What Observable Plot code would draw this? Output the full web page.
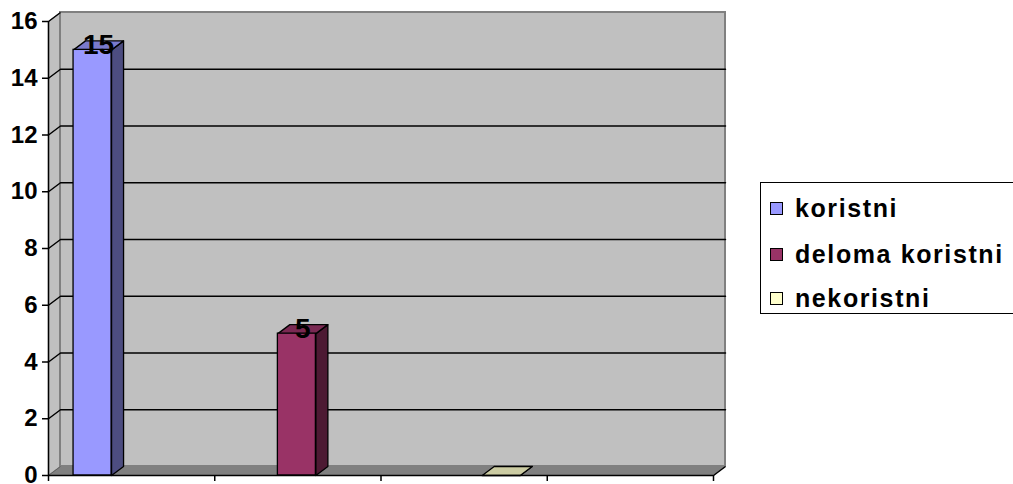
<!DOCTYPE html>
<html>
<head>
<meta charset="utf-8">
<script src="https://cdn.jsdelivr.net/npm/d3@7"></script>
<script src="https://cdn.jsdelivr.net/npm/@observablehq/plot@0.6"></script>
<style>
  html, body { margin: 0; padding: 0; background: #fff; }
  #wrap { position: relative; width: 1013px; height: 484px; overflow: hidden; font-family: "Liberation Sans", Arial, sans-serif; }
  #legend { position: absolute; left: 760px; top: 182px; width: 270px; height: 132px; border: 1px solid #000; background: #fff; box-sizing: border-box; }
  .item { position: absolute; left: 9px; height: 30px; display: flex; align-items: center; font-weight: 700; font-size: 25px; letter-spacing: 1.6px; color: #000; white-space: nowrap; }
  .sw { width: 11px; height: 11px; border: 1px solid #000; margin-right: 12px; flex: none; }
  #chart svg text { font-weight: 700; }
  #chart g[aria-label="y-axis tick label"] text { font-size: 24px; }
</style>
</head>
<body>
<div id="wrap"><div id="chart"></div><div id="legend"></div></div>
<script>
// ---- data ----
const categories = ["koristni", "deloma koristni", "nekoristni"];
const values = [15, 5, 0];
const frontColors = ["#9999FF", "#993366", "#FFFFCC"];
const sideColors = ["#4D4D80", "#4D1A33", "#808066"];
const topColors = ["#7A7ACC", "#7A2952", "#CCCCA3"];
const yTicks = [0, 2, 4, 6, 8, 10, 12, 14, 16];
const xTicks = [0, 1, 2, 3, 4];

// ---- layout ----
const W = 1013, H = 484;
const mL = 48, mR = 300, mT = 21, mB = 9;
const xDom = [0, 4], yDom = [0, 16];
const kx = (xDom[1] - xDom[0]) / (W - mL - mR);   // data units per px
const ky = (yDom[1] - yDom[0]) / (H - mT - mB);
const DX = 12 * kx, DY = 9 * ky;                // 3D depth offset
const barW = 38 * kx;
const firstCenter = 0.265, step = 1.229;

const bars = categories.map((c, i) => {
  const cx = firstCenter + i * step;
  return { c, v: values[i], x1: cx - barW / 2, x2: cx + barW / 2, cx,
    front: frontColors[i], side: sideColors[i], top: topColors[i] };
});

const poly = (pts) => pts.map(([x, y]) => ({ x, y }));
const polyMark = (pts, opts) => Plot.line(poly(pts), { x: "x", y: "y", curve: "linear-closed", ...opts });

const marks = [];
// left side wall
marks.push(polyMark([[0, 0], [0, 16], [DX, 16 + DY], [DX, DY]], { fill: "#C0C0C0", stroke: "#808080", strokeWidth: 1.2 }));
// back wall
marks.push(Plot.rect([0], { x1: DX, x2: 4 + DX, y1: DY, y2: 16 + DY, fill: "#C0C0C0", stroke: "#808080", strokeWidth: 2 }));
// gridlines (back wall horizontal + left wall diagonal)
const grid = [];
yTicks.filter(t => t > 0 && t < 16).forEach(t => {
  grid.push({ t, x: 0, y: t }, { t, x: DX, y: t + DY }, { t, x: 4 + DX, y: t + DY });
});
marks.push(Plot.line(grid, { x: "x", y: "y", z: "t", stroke: "#000", strokeWidth: 1.5 }));
marks.push(Plot.link([16], { x1: 0, y1: d => d, x2: DX, y2: d => d + DY, stroke: "#000", strokeWidth: 1.2 }));
// floor
marks.push(polyMark([[0, 0], [4, 0], [4 + DX, DY], [DX, DY]], { fill: "#808080", stroke: "none" }));
marks.push(Plot.link([0], { x1: 0, y1: 0, x2: DX, y2: DY, stroke: "#606060", strokeWidth: 1 }));
marks.push(Plot.link([0], { x1: 4, y1: 0, x2: 4 + DX, y2: DY, stroke: "#000", strokeWidth: 1.5 }));

// bars
bars.forEach(b => {
  marks.push(polyMark([[b.x2, 0], [b.x2 + DX, DY], [b.x2 + DX, b.v + DY], [b.x2, b.v]], { fill: b.side, stroke: "#000", strokeWidth: 1.3 }));
  marks.push(polyMark([[b.x1, b.v], [b.x2, b.v], [b.x2 + DX, b.v + DY], [b.x1 + DX, b.v + DY]], { fill: b.top, stroke: "#000", strokeWidth: 1.3 }));
  if (b.v > 0) marks.push(Plot.rect([b], { x1: "x1", x2: "x2", y1: 0, y2: "v", fill: b.front, stroke: "#000", strokeWidth: 1.3 }));
});

// axes
marks.push(Plot.ruleY([0], { stroke: "#000", strokeWidth: 1.5 }));
marks.push(Plot.ruleX([0], { stroke: "#000", strokeWidth: 1.5 }));
marks.push(Plot.axisY({ ticks: yTicks, tickSize: 6, tickPadding: 5, label: null, fontSize: 24, fontWeight: "bold", stroke: "#000", strokeWidth: 1.5 }));
marks.push(Plot.axisX({ ticks: xTicks, tickSize: 6, tickFormat: () => "", label: null, stroke: "#000", strokeWidth: 1.5 }));

// value labels
marks.push(Plot.text(bars.filter(b => b.v > 0), {
  x: b => b.cx + DX / 2, y: b => b.v + DY / 2, text: b => String(b.v),
  fontSize: 28, fontWeight: "bold", fill: "#000"
}));

const chart = Plot.plot({
  width: W, height: H,
  marginLeft: mL, marginRight: mR, marginTop: mT, marginBottom: mB,
  x: { domain: xDom, axis: null },
  y: { domain: yDom, axis: null },
  style: { fontFamily: "Liberation Sans, Arial, sans-serif", fontSize: "24px", fontWeight: "bold", color: "#000", background: "transparent", overflow: "visible" },
  marks
});
document.getElementById("chart").appendChild(chart);

// legend
const legend = document.getElementById("legend");
const rowCenters = [25, 71, 115];
categories.forEach((c, i) => {
  const it = document.createElement("div");
  it.className = "item";
  it.style.top = (rowCenters[i] - 15) + "px";
  const sw = document.createElement("span");
  sw.className = "sw";
  sw.style.background = frontColors[i];
  it.appendChild(sw);
  it.appendChild(document.createTextNode(c));
  legend.appendChild(it);
});
</script>
</body>
</html>
